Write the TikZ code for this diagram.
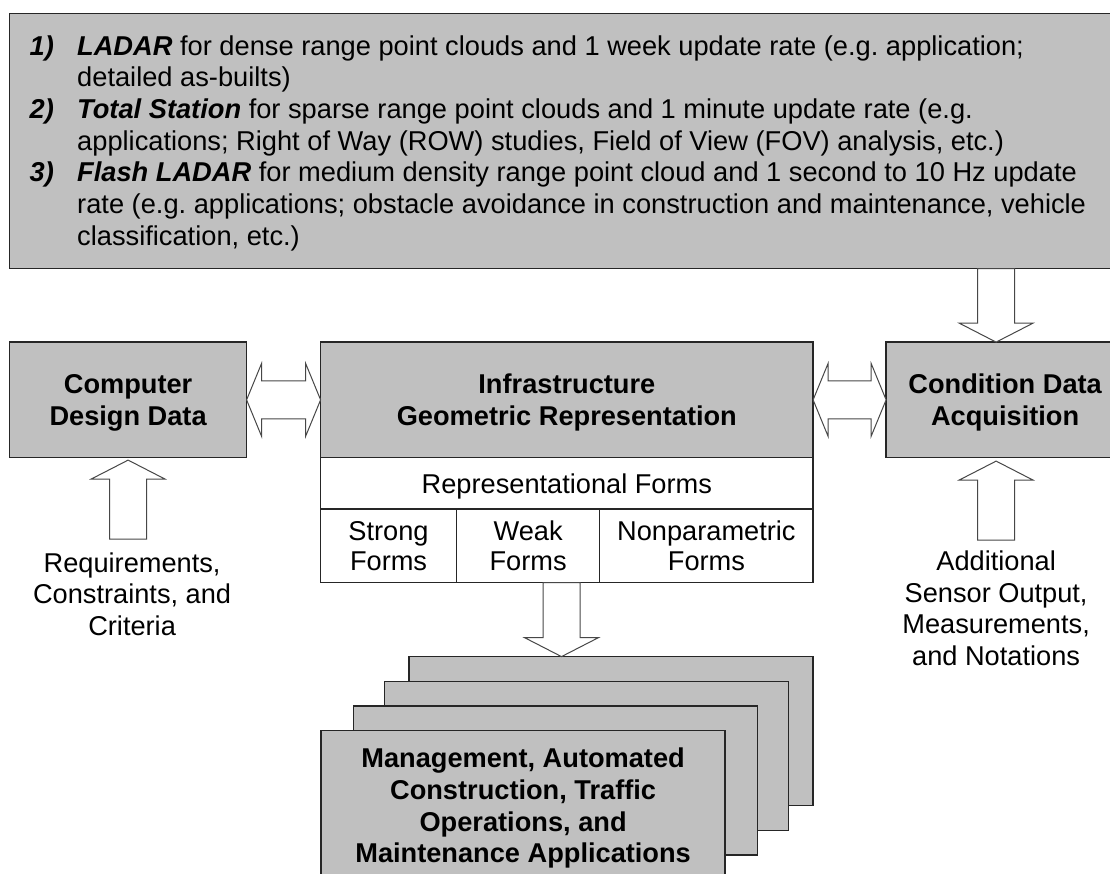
\documentclass[tikz,border=0pt]{standalone}
\usepackage{fontspec}
\setmainfont{Liberation Sans}
\usepackage{tikz}
\usetikzlibrary{positioning,calc}
\definecolor{cinza}{RGB}{192,192,192}
\definecolor{borda}{RGB}{38,38,38}
\tikzset{
    caixa/.style={
        rectangle,
        draw=borda,
        fill=cinza,
        line width=1.3pt,
        outer sep=0pt,
        inner sep=0pt,
        align=center,
        text depth=0pt,
        font=\fontsize{27.2}{31.7}\selectfont\bfseries
    },
    celula/.style={caixa, fill=white, font=\fontsize{27.2}{30}\selectfont},
    pilha/.style={caixa, minimum width=404pt, minimum height=149pt},
    rotulo/.style={align=center, inner sep=0pt, font=\fontsize{27.2}{31.6}\selectfont},
    lista/.style={inner sep=0pt, font=\fontsize{27.25}{31.7}\selectfont\frenchspacing},
    seta/.style={draw=borda!85, fill=white, line width=1pt},
    setadupla/.style={seta, to path={
        -- ($(\tikztostart)+(15,36.5)$) -- ($(\tikztostart)+(15,19)$)
        -- ($(\tikztotarget)+(-15,19)$) -- ($(\tikztotarget)+(-15,36.5)$)
        -- (\tikztotarget)
        -- ($(\tikztotarget)+(-15,-36.5)$) -- ($(\tikztotarget)+(-15,-19)$)
        -- ($(\tikztostart)+(15,-19)$) -- ($(\tikztostart)+(15,-36.5)$) -- cycle}},
    setacima/.style={seta, to path={
        -- ($(\tikztostart)+(-18.5,0)$) -- ($(\tikztotarget)+(-18.5,-19)$)
        -- ($(\tikztotarget)+(-37,-19)$) -- (\tikztotarget) -- ($(\tikztotarget)+(37,-19)$)
        -- ($(\tikztotarget)+(18.5,-19)$) -- ($(\tikztostart)+(18.5,0)$) -- cycle}},
    setabaixo/.style={seta, to path={
        -- ($(\tikztostart)+(-18.5,0)$) -- ($(\tikztotarget)+(-18.5,19)$)
        -- ($(\tikztotarget)+(-37,19)$) -- (\tikztotarget) -- ($(\tikztotarget)+(37,19)$)
        -- ($(\tikztotarget)+(18.5,19)$) -- ($(\tikztostart)+(18.5,0)$) -- cycle}}
}

\begin{document}
\begin{tikzpicture}[x=1pt, y=1pt]
    \useasboundingbox (0,0) rectangle (1110,-873);
    \clip (0,0) rectangle (1110,-873);

    \node[caixa, anchor=north west, minimum width=1114.4pt, minimum height=255.3pt] (metodos) at (9.6,-13.3) {};
    \node[lista, anchor=base west] (itens) at (29.5,-55) {%
        \begin{tabular}[t]{@{}p{47.5pt}@{}l@{}}
            \textbf{\textit{1)}} & \textbf{\textit{LADAR}} for dense range point clouds and 1 week update rate (e.g. application;\\
            & detailed as-builts)\\
            \textbf{\textit{2)}} & \textbf{\textit{Total Station}} for sparse range point clouds and 1 minute update rate (e.g.\\
            & applications; Right of Way (ROW) studies, Field of View (FOV) analysis, etc.)\\
            \textbf{\textit{3)}} & \textbf{\textit{Flash LADAR}} for medium density range point cloud and 1 second to 10 Hz update\\
            & rate (e.g. applications; obstacle avoidance in construction and maintenance, vehicle\\
            & classification, etc.)
        \end{tabular}};

    \node[caixa, minimum width=237pt, minimum height=115.5pt, below right=73.5pt and 0pt of metodos.south west] (cdd)
        {Computer\\Design Data};
    \node[caixa, minimum width=492.5pt, minimum height=115.5pt, right=74pt of cdd] (infra)
        {Infrastructure\\Geometric Representation};
    \node[celula, minimum width=492.5pt, minimum height=51.3pt, below=0pt of infra] (formas)
        {Representational Forms};
    \node[celula, minimum width=135.9pt, minimum height=73.7pt, below right=0pt of formas.south west] (forte)
        {Strong\\Forms};
    \node[celula, minimum width=143.2pt, minimum height=73.7pt, right=0pt of forte] (fraca)
        {Weak\\Forms};
    \node[celula, minimum width=213.4pt, minimum height=73.7pt, right=0pt of fraca] (naoparam)
        {Nonparametric\\Forms};
    \node[caixa, minimum width=238pt, minimum height=115.5pt, right=73pt of infra] (cond)
        {Condition Data\\Acquisition};

    \node[rotulo, below=94.5pt of cdd, xshift=4pt] (requisitos)
        {Requirements,\\Constraints, and\\Criteria};
    \node[rotulo, below=93pt of cond, xshift=-9pt] (adicional)
        {Additional\\Sensor Output,\\Measurements,\\and Notations};

    \node[pilha, below left=74pt and 0pt of naoparam.south east] (aplic4) {};
    \node[pilha] (aplic3) at ([shift={(-24.5,-25)}]aplic4.center) {};
    \node[pilha] (aplic2) at ([shift={(-31,-24.5)}]aplic3.center) {};
    \node[pilha] (aplic1) at ([shift={(-32.5,-24.7)}]aplic2.center)
        {Management, Automated\\Construction, Traffic\\Operations, and\\Maintenance Applications};

    \draw[setadupla] (cdd.east) to (infra.west);
    \draw[setadupla] (infra.east) to (cond.west);
    \draw[setabaixo] (adicional.north |- metodos.south) to (adicional.north |- cond.north);
    \draw[setacima] ($(requisitos.north -| cdd.south)+(0,13)$) to ($(cdd.south)+(0,-2.5)$);
    \draw[setacima] ($(adicional.north)+(0,10.5)$) to ($(adicional.north |- cond.south)+(0,-3.5)$);
    \coordinate (desce) at ($(fraca.south)+(33.4,0)$);
    \draw[setabaixo] (desce) to (desce |- aplic4.north);
\end{tikzpicture}
\end{document}
